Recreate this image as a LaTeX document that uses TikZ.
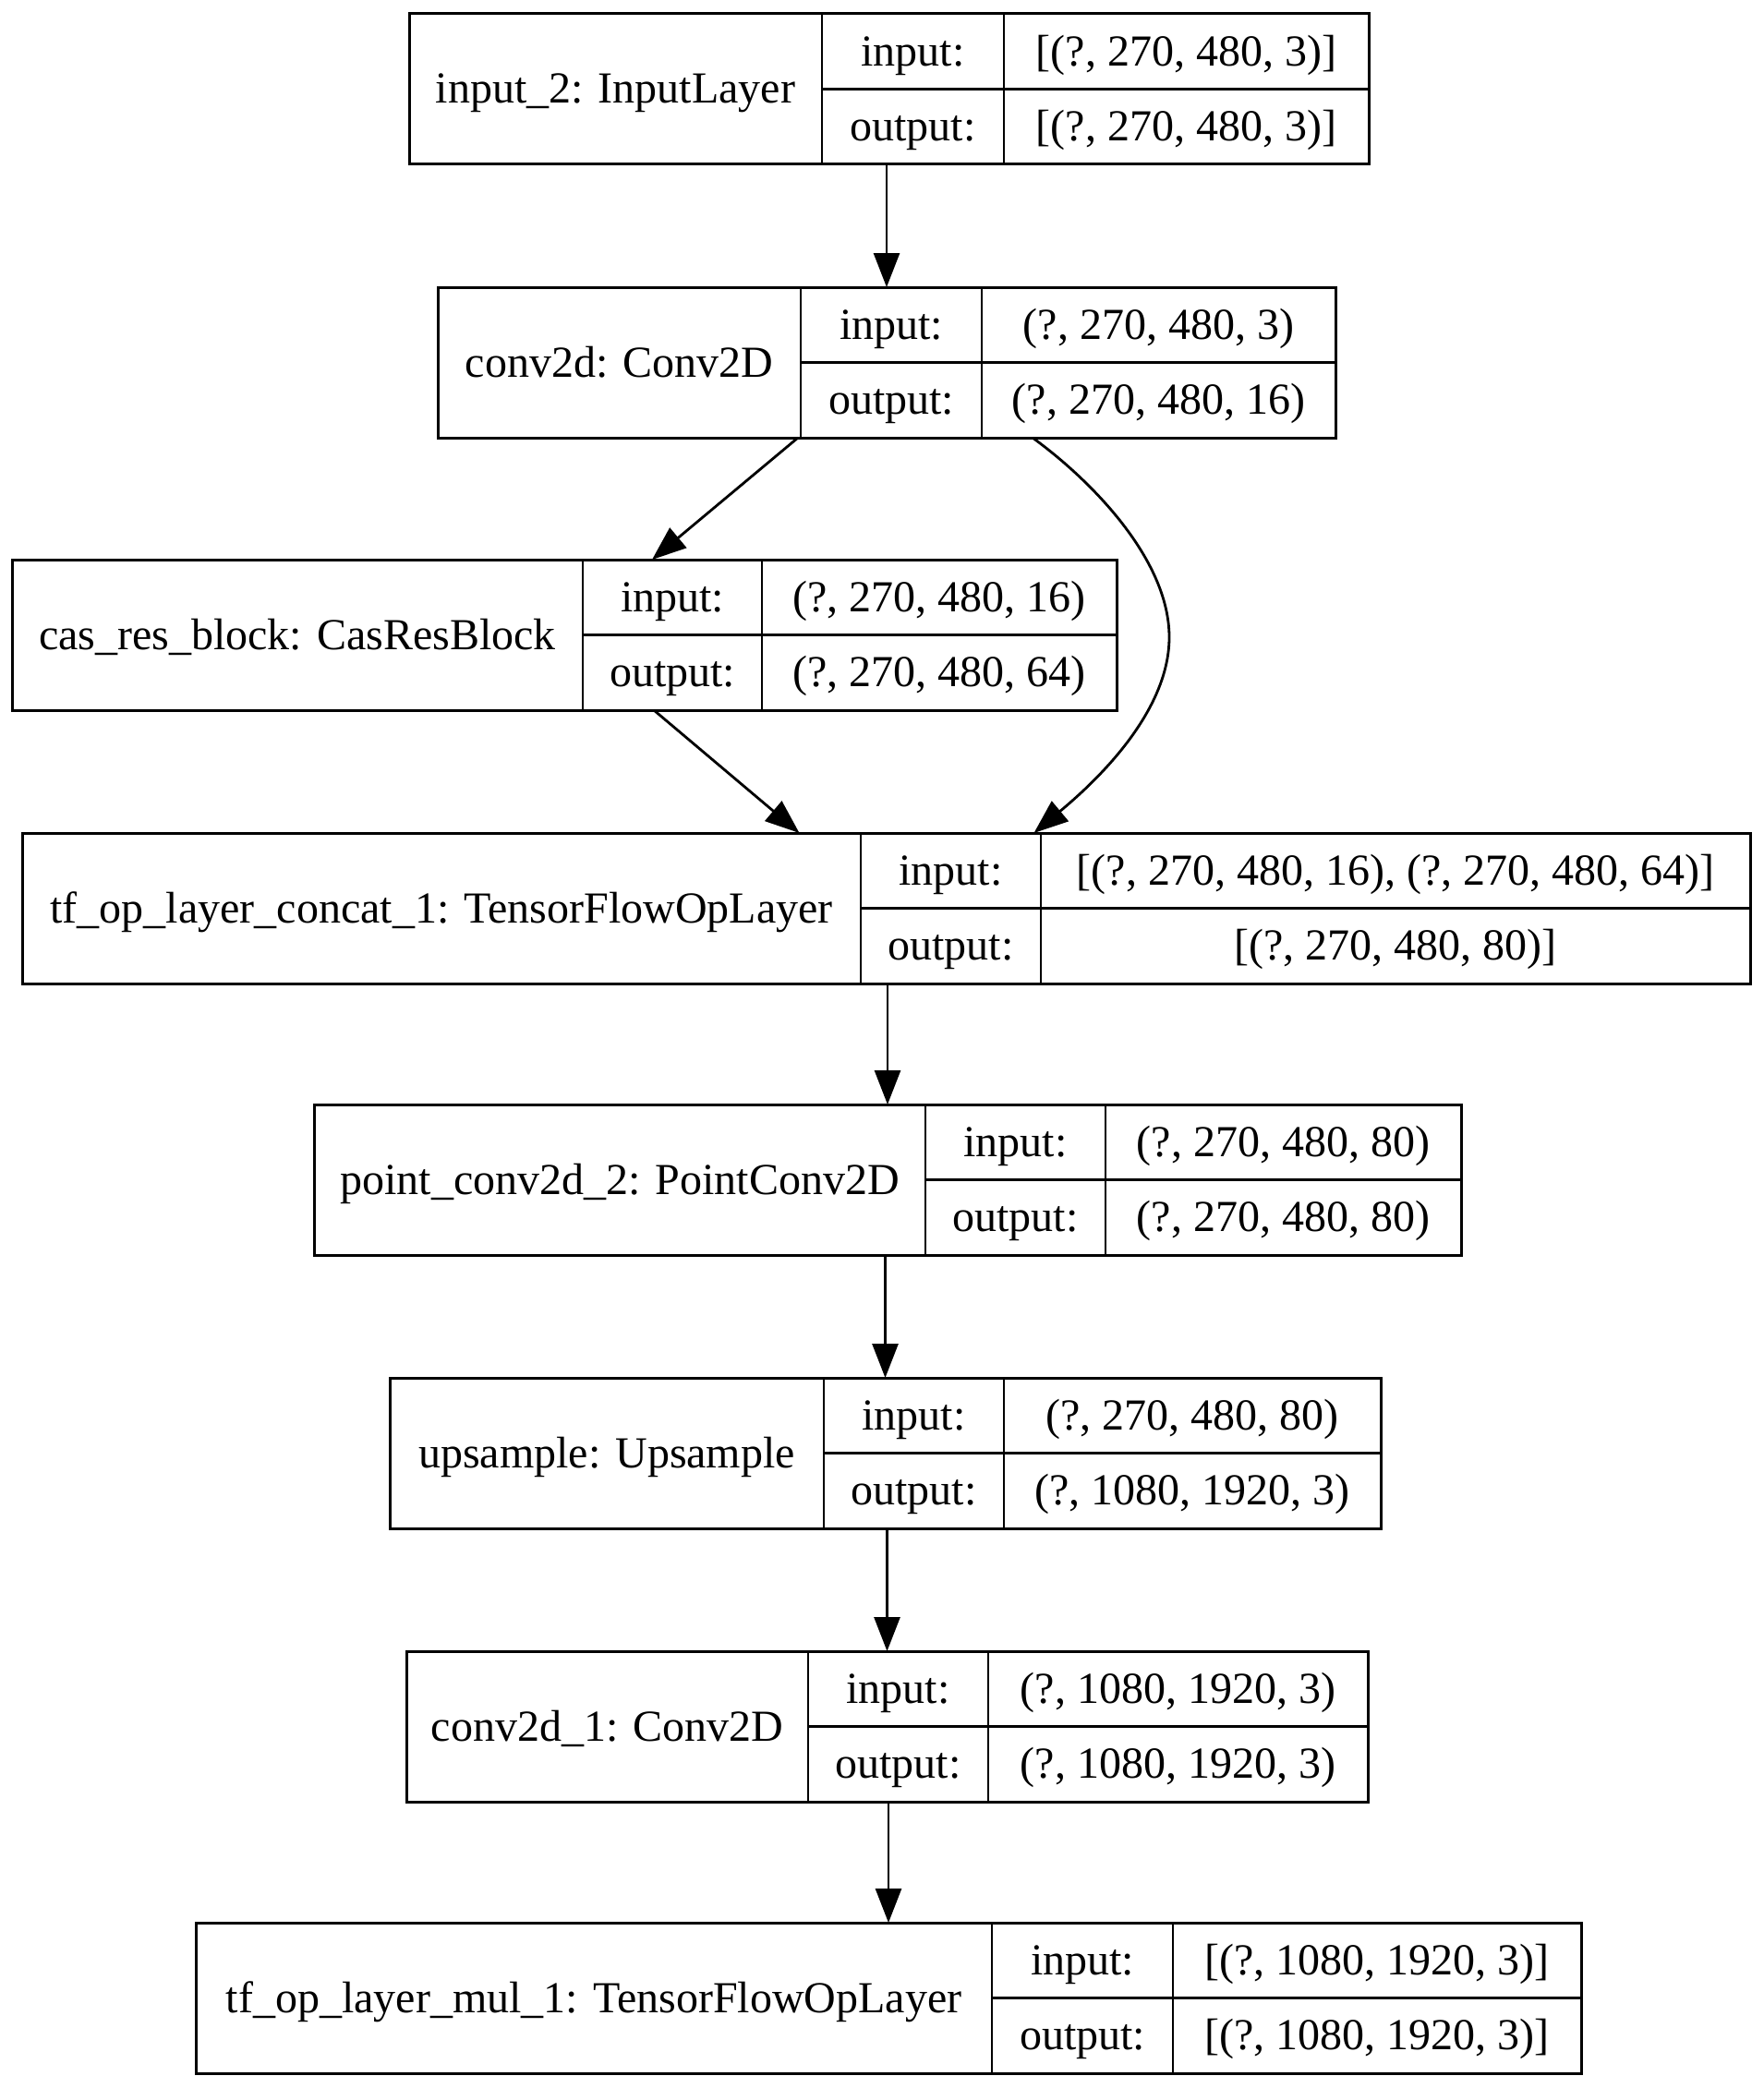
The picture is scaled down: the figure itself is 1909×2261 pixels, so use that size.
\documentclass[tikz,border=0pt]{standalone}
\usepackage{fontspec}
\setmainfont{Liberation Serif}
\usetikzlibrary{arrows.meta}
\tikzset{
  layerbox/.style={draw, line width=3pt, minimum height=163pt, inner sep=0pt, outer sep=0pt},
  cell/.style={inner sep=0pt, text height=37pt, text depth=6pt, font=\fontsize{48}{56}\selectfont},
  divider/.style={line width=2.6pt},
  edge/.style={line width=2.8pt, -{Triangle[length=37pt,width=28pt]}},
}
% #1 name, #2 left, #3 first divider, #4 second divider, #5 right, #6 top, #7 label, #8 input, #9 output
\newcommand{\drawlayer}[9]{%
  \node[layerbox, minimum width={(#5-#2)*1pt}] (#1) at ({(#2+#5)/2},{#6+81.5}) {};
  \node[cell] (#1-name) at ({(#2+#3)/2},{#6+81.5}) {#7};
  \node[cell] (#1-ki) at ({(#3+#4)/2},{#6+40.75}) {input:};
  \node[cell] (#1-ko) at ({(#3+#4)/2},{#6+122.25}) {output:};
  \node[cell] (#1-vi) at ({(#4+#5)/2},{#6+40.75}) {#8};
  \node[cell] (#1-vo) at ({(#4+#5)/2},{#6+122.25}) {#9};
  \draw[divider] ({#3},{#6}) -- ({#3},{#6+163});
  \draw[divider] ({#4},{#6}) -- ({#4},{#6+163});
  \draw[divider] ({#3},{#6+81.5}) -- ({#5},{#6+81.5});
}
\begin{document}
\begin{tikzpicture}[x=1pt, y=-1pt]
\fill[white] (0,0) rectangle (1909,2261);
\useasboundingbox (0,0) rectangle (1909,2261);

\drawlayer{L1}{443}{890}{1087}{1482}{15}{input\_2: InputLayer}{[(?, 270, 480, 3)]}{[(?, 270, 480, 3)]}
\drawlayer{L2}{474}{867}{1063}{1446}{311}{conv2d: Conv2D}{(?, 270, 480, 3)}{(?, 270, 480, 16)}
\drawlayer{L3}{13}{631}{825}{1209}{606}{cas\_res\_block: CasResBlock}{(?, 270, 480, 16)}{(?, 270, 480, 64)}
\drawlayer{L4}{24}{932}{1127}{1895}{902}{tf\_op\_layer\_concat\_1: TensorFlowOpLayer}{[(?, 270, 480, 16), (?, 270, 480, 64)]}{[(?, 270, 480, 80)]}
\drawlayer{L5}{340}{1002}{1197}{1582}{1196}{point\_conv2d\_2: PointConv2D}{(?, 270, 480, 80)}{(?, 270, 480, 80)}
\drawlayer{L6}{422}{892}{1087}{1495}{1492}{upsample: Upsample}{(?, 270, 480, 80)}{(?, 1080, 1920, 3)}
\drawlayer{L7}{440}{875}{1070}{1481}{1788}{conv2d\_1: Conv2D}{(?, 1080, 1920, 3)}{(?, 1080, 1920, 3)}
\drawlayer{L8}{212}{1074}{1270}{1712}{2082}{tf\_op\_layer\_mul\_1: TensorFlowOpLayer}{[(?, 1080, 1920, 3)]}{[(?, 1080, 1920, 3)]}

\coordinate (bend) at (1266,690);

\draw[edge] (L2.north |- L1.south) -- (L2.north);
\draw[edge] ([xshift=-96pt]L2.south) -- ([xshift=95pt]L3.north);
\draw[edge] ([xshift=97pt]L3.south) -- ([xshift=-94pt]L4.north);
\draw[edge] ([xshift=158pt]L2.south) .. controls +(62,45) and +(0,-85) .. (bend)
            .. controls +(0,85) and +(60,-50) .. ([xshift=160pt]L4.north);
\draw[edge] (L5.north |- L4.south) -- (L5.north);
\draw[edge] (L6.north |- L5.south) -- (L6.north);
\draw[edge] (L7.north |- L6.south) -- (L7.north);
\draw[edge] (L8.north |- L7.south) -- (L8.north);
\end{tikzpicture}
\end{document}
